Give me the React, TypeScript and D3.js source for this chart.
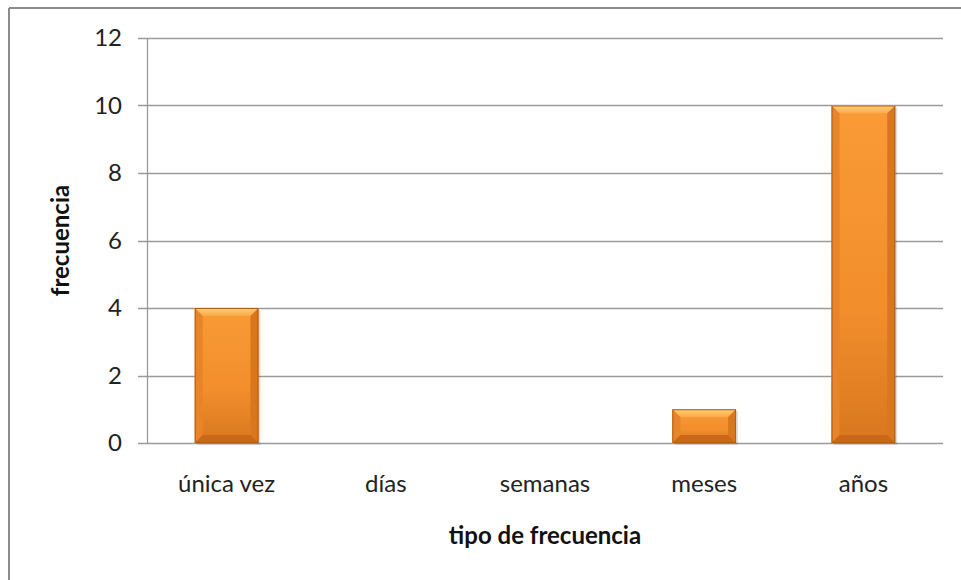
import React from "react";
import * as d3 from "d3";

const categories = ["única vez", "días", "semanas", "meses", "años"];
const values = [4, 0, 0, 1, 10];
const yTicks = [0, 2, 4, 6, 8, 10, 12];
const xTitle = "tipo de frecuencia";
const yTitle = "frecuencia";

const W = 961;
const H = 580;
const plot = { left: 147, right: 943, top: 38, bottom: 443 };
const FONT = "Lato, 'Open Sans', sans-serif";

export default function App() {
  const x = d3
    .scaleBand<string>()
    .domain(categories)
    .range([plot.left, plot.right])
    .paddingInner(0.6)
    .paddingOuter(0.3);
  const y = d3.scaleLinear().domain([0, 12]).range([plot.bottom, plot.top]);
  const bw = x.bandwidth();
  const bev = 8;

  return (
    <svg
      width={W}
      height={H}
      style={{ position: "absolute", left: 0, top: 0, background: "#fff" }}
    >
      <defs>
        <linearGradient id="barGrad" x1="0" y1="0" x2="0" y2="1">
          <stop offset="0" stopColor="#F99B36" />
          <stop offset="0.6" stopColor="#F28E2C" />
          <stop offset="1" stopColor="#D9771F" />
        </linearGradient>
        <linearGradient id="topGrad" x1="0" y1="0" x2="0" y2="1">
          <stop offset="0" stopColor="#FDD27E" />
          <stop offset="1" stopColor="#FBA846" />
        </linearGradient>
      </defs>
      {/* chart border */}
      <line x1={9} y1={8} x2={W} y2={8} stroke="#8c8c8c" strokeWidth={2} />
      <line x1={9} y1={8} x2={9} y2={H} stroke="#8c8c8c" strokeWidth={2} />

      {/* gridlines and ticks */}
      {yTicks.map((t) => (
        <g key={t}>
          <line
            x1={plot.left - 9}
            x2={plot.right}
            y1={Math.round(y(t)) + 0.5}
            y2={Math.round(y(t)) + 0.5}
            stroke="#9a9a9a"
            strokeWidth={1.3}
          />
          <text
            x={122}
            y={y(t)}
            dy="0.35em"
            textAnchor="end"
            fontFamily={FONT}
            fontSize={24}
            fill="#222"
          >
            {t}
          </text>
        </g>
      ))}
      <line
        x1={plot.left + 0.5}
        x2={plot.left + 0.5}
        y1={plot.top}
        y2={plot.bottom}
        stroke="#9a9a9a"
        strokeWidth={1.3}
      />

      {/* bars */}
      {categories.map((c, i) => {
        const v = values[i];
        if (v <= 0) return null;
        const x0 = x(c)!;
        const x1 = x0 + bw;
        const y0 = y(v);
        const y1 = y(0);
        const b = Math.min(bev, (y1 - y0) / 3);
        return (
          <g key={c}>
            <rect x={x0 + 2} y={y0 + 2} width={bw} height={y1 - y0} fill="#000" opacity={0.12} />
            <rect x={x0} y={y0} width={bw} height={y1 - y0} fill="url(#barGrad)" />
            <polygon
              points={`${x0},${y0} ${x1},${y0} ${x1 - b},${y0 + b} ${x0 + b},${y0 + b}`}
              fill="url(#topGrad)"
            />
            <polygon
              points={`${x0},${y0} ${x0 + b},${y0 + b} ${x0 + b},${y1 - b} ${x0},${y1}`}
              fill="#E8852A"
            />
            <polygon
              points={`${x1},${y0} ${x1 - b},${y0 + b} ${x1 - b},${y1 - b} ${x1},${y1}`}
              fill="#D9771F"
            />
            <polygon
              points={`${x0},${y1} ${x0 + b},${y1 - b} ${x1 - b},${y1 - b} ${x1},${y1}`}
              fill="#C9681A"
            />
            <rect
              x={x0 + 0.5}
              y={y0 + 0.5}
              width={bw - 1}
              height={y1 - y0 - 1}
              fill="none"
              stroke="#B35E16"
              strokeWidth={1}
            />
          </g>
        );
      })}

      {/* category labels */}
      {categories.map((c) => (
        <text
          key={c}
          x={x(c)! + bw / 2}
          y={492}
          textAnchor="middle"
          fontFamily={FONT}
          fontSize={24}
          fill="#222"
        >
          {c}
        </text>
      ))}

      {/* axis titles */}
      <text
        x={(plot.left + plot.right) / 2}
        y={544}
        textAnchor="middle"
        fontFamily={FONT}
        fontWeight="bold"
        fontSize={24}
        fill="#111"
      >
        {xTitle}
      </text>
      <text
        transform={`translate(69, ${(plot.top + plot.bottom) / 2}) rotate(-90)`}
        textAnchor="middle"
        fontFamily={FONT}
        fontWeight="bold"
        fontSize={24}
        fill="#111"
      >
        {yTitle}
      </text>
    </svg>
  );
}
